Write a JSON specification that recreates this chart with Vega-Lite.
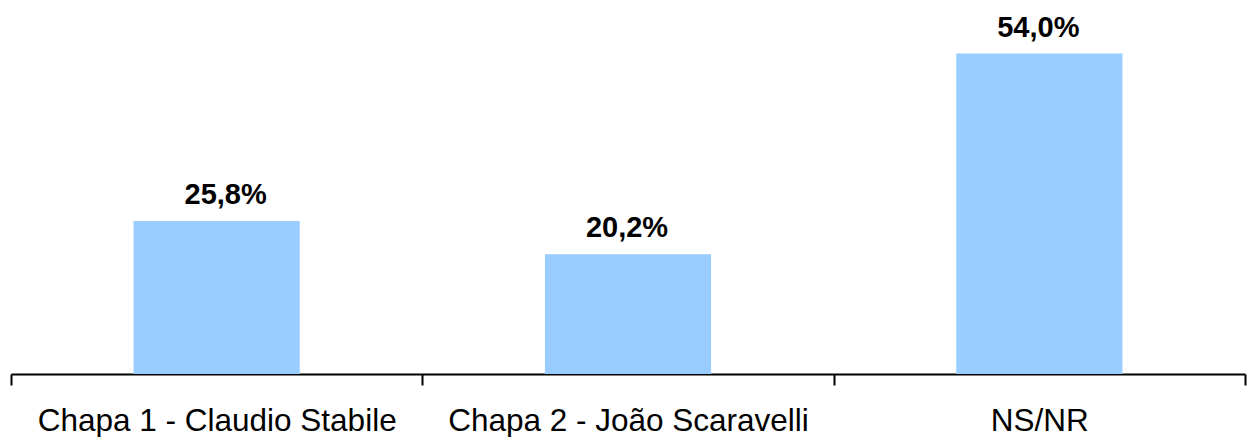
{
  "$schema": "https://vega.github.io/schema/vega-lite/v6.json",
  "autosize": "none",
  "width": 1234,
  "height": 356,
  "padding": {"left": 11, "top": 18, "right": 8, "bottom": 63},
  "background": "white",
  "config": {"view": {"stroke": null}, "font": "Liberation Sans"},
  "data": {
    "values": [
      {"categoria": "Chapa 1 - Claudio Stabile", "valor": 25.8, "rotulo": "25,8%"},
      {"categoria": "Chapa 2 - João Scaravelli", "valor": 20.2, "rotulo": "20,2%"},
      {"categoria": "NS/NR", "valor": 54.0, "rotulo": "54,0%"}
    ]
  },
  "encoding": {
    "x": {
      "field": "categoria",
      "type": "nominal",
      "sort": null,
      "scale": {"paddingInner": 0, "paddingOuter": 0},
      "axis": {
        "title": null,
        "labelAngle": 0,
        "labelFont": "Liberation Sans",
        "labelFontSize": 31.5,
        "labelLimit": 0,
        "labelColor": "black",
        "labelPadding": 20,
        "labelBaseline": "top",
        "tickBand": "extent",
        "tickSize": 11,
        "tickWidth": 2,
        "tickColor": "black",
        "domainColor": "black",
        "domainWidth": 2,
        "grid": false
      }
    },
    "y": {
      "field": "valor",
      "type": "quantitative",
      "scale": {"domain": [0, 60]},
      "axis": null
    }
  },
  "layer": [
    {
      "mark": {"type": "bar", "color": "#99CCFF", "width": {"band": 0.404}}
    },
    {
      "transform": [{"filter": "datum.valor === 25.8"}],
      "mark": {
        "type": "text",
        "baseline": "alphabetic",
        "dy": -17,
        "dx": 9,
        "fontSize": 29,
        "fontWeight": "bold",
        "font": "Liberation Sans",
        "color": "black"
      },
      "encoding": {"text": {"field": "rotulo"}}
    },
    {
      "transform": [{"filter": "datum.valor !== 25.8"}],
      "mark": {
        "type": "text",
        "baseline": "alphabetic",
        "dy": -17,
        "dx": -1,
        "fontSize": 29,
        "fontWeight": "bold",
        "font": "Liberation Sans",
        "color": "black"
      },
      "encoding": {"text": {"field": "rotulo"}}
    }
  ]
}
